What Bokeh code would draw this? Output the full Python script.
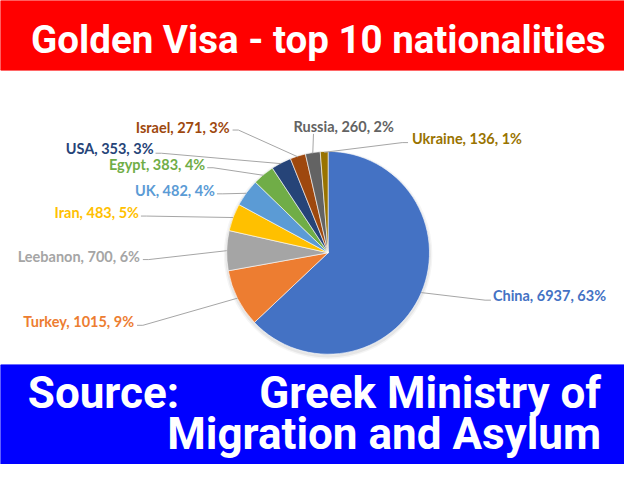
import numpy as np
from bokeh.plotting import figure
from bokeh.models import Range1d
from bokeh.core.properties import value
from bokeh.embed import file_html
from bokeh.resources import INLINE

# ---- data ----
countries = ["China", "Turkey", "Leebanon", "Iran", "UK", "Egypt", "USA", "Israel", "Russia", "Ukraine"]
counts = [6937, 1015, 700, 483, 482, 383, 353, 271, 260, 136]
percents = [63, 9, 6, 5, 4, 4, 3, 3, 2, 1]
colors = ["#4472C4", "#ED7D31", "#A5A5A5", "#FFC000", "#5B9BD5",
          "#70AD47", "#264478", "#9E480E", "#636363", "#997300"]
title_text = "Golden Visa - top 10 nationalities"
source_label = "Source:"
source_line1 = "Greek Ministry of"
source_line2 = "Migration and Asylum"

# ---- layout (reference pixel coords, y downwards) ----
label_pos = {
    "China":    (505, 305, "left"),
    "Turkey":   (137, 332, "right"),
    "Leebanon": (143, 265, "right"),
    "Iran":     (142, 219, "right"),
    "UK":       (220, 197, "right"),
    "Egypt":    (210, 170, "right"),
    "USA":      (157, 153, "right"),
    "Israel":   (235, 131, "right"),
    "Russia":   (352, 130, "center"),
    "Ukraine":  (422, 143, "left"),
}
line_anchor = {
    "China": (503, 310), "Turkey": (140, 336), "Leebanon": (146, 268),
    "Iran": (144, 223), "UK": (222, 200), "Egypt": (212, 173),
    "USA": (159, 158), "Israel": (238, 134), "Russia": (321, 138),
    "Ukraine": (418, 147),
}

W, H = 624, 464
def Y(y):
    return 480 - y

p = figure(width=W, height=H, x_range=Range1d(0, 640), y_range=Range1d(0, 480),
           output_backend="svg", toolbar_location=None, min_border=0)
p.axis.visible = False
p.grid.visible = False
p.outline_line_color = None
p.background_fill_color = "white"
p.border_fill_color = "white"

# banners
p.quad(left=[0], right=[640], bottom=[Y(72)], top=[480], color="#FF0000")
p.quad(left=[0], right=[640], bottom=[0], top=[Y(377)], color="#0000FF")

BANNER_FONT = value("Roboto")
p.text(x=[326], y=[Y(40)], text=[title_text], text_font=BANNER_FONT,
       text_font_size="38.5px", text_font_style="bold", text_color="white",
       text_align="center", text_baseline="middle")
p.text(x=[28], y=[Y(406)], text=[source_label], text_font=BANNER_FONT,
       text_font_size="44px", text_font_style="bold", text_color="white",
       text_align="left", text_baseline="middle")
p.text(x=[616], y=[Y(406)], text=[source_line1], text_font=BANNER_FONT,
       text_font_size="44px", text_font_style="bold", text_color="white",
       text_align="right", text_baseline="middle")
p.text(x=[616], y=[Y(448)], text=[source_line2], text_font=BANNER_FONT,
       text_font_size="44px", text_font_style="bold", text_color="white",
       text_align="right", text_baseline="middle")

# pie
cx, cy, r = 336, Y(261), 104
vals = np.array(counts, dtype=float)
frac = vals / vals.sum()
cum = np.concatenate([[0], np.cumsum(frac)])
start = np.pi / 2 - 2 * np.pi * cum[:-1]
end = np.pi / 2 - 2 * np.pi * cum[1:]
mid = (start + end) / 2

# soft shadow
for dr, a in [(3, 0.04), (1.5, 0.06)]:
    p.circle(x=[cx], y=[cy - 2], radius=r + dr, fill_color="black",
             fill_alpha=a, line_color=None)

p.wedge(x=cx, y=cy, radius=r, start_angle=start, end_angle=end,
        direction="clock", fill_color=colors, line_color="white", line_width=0.6)

# leader lines & labels
xs, ys = [], []
for i, c in enumerate(countries):
    ax, ay = line_anchor[c]
    px = cx + r * np.cos(mid[i])
    py = cy + r * np.sin(mid[i])
    align = label_pos[c][2]
    if align == "right":
        ex = ax + 6
    elif align == "left":
        ex = ax - 6
    else:
        ex = ax
    xs.append([ax, ex, px])
    ys.append([Y(ay), Y(ay), py])
p.multi_line(xs=xs, ys=ys, line_color="#A6A6A6", line_width=1)

LABEL_FONT = value("Lato")
for i, c in enumerate(countries):
    lx, ly, align = label_pos[c]
    p.text(x=[lx], y=[Y(ly)], text=[f"{c}, {counts[i]}, {percents[i]}%"],
           text_font=LABEL_FONT, text_font_size="14.5px", text_font_style="bold",
           text_color=colors[i], text_align=align, text_baseline="middle")

open("out.html", "w").write(file_html(p, INLINE))
